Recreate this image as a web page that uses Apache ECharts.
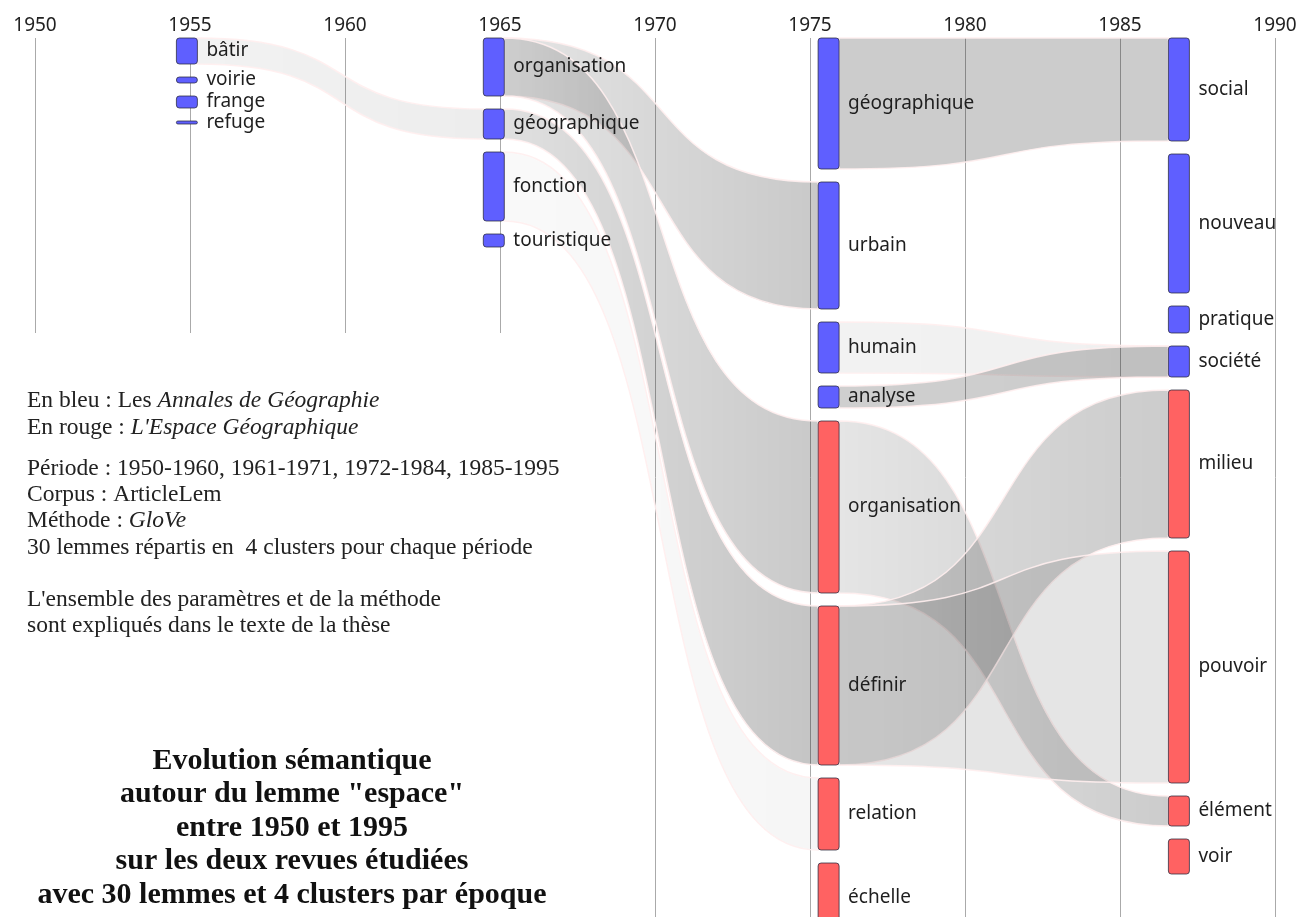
<!DOCTYPE html>
<html>
<head>
<meta charset="utf-8">
<script src="https://cdn.jsdelivr.net/npm/echarts@6/dist/echarts.min.js"></script>
<style>
  html, body { margin: 0; padding: 0; background: #fff; }
  #main { width: 1300px; height: 917px; }
</style>
</head>
<body>
<div id="main"></div>
<script>
// x position (year) of each period column
var periodYears = [1954.9, 1964.8, 1975.6, 1986.9];

// lemmas of each period, top to bottom
var periodLemmas = [
  ['bâtir', 'voirie', 'frange', 'refuge'],
  ['organisation', 'géographique', 'fonction', 'touristique'],
  ['géographique', 'urbain', 'humain', 'analyse', 'organisation', 'définir', 'relation', 'échelle'],
  ['social', 'nouveau', 'pratique', 'société', 'milieu', 'pouvoir', 'élément', 'voir']
];
// cluster weights (bar heights)
var periodWeights = [
  [26, 6, 12, 3],
  [58, 30, 69, 13],
  [131, 127, 51, 22, 172, 159, 72, 70],
  [103, 139, 27, 31, 148, 232, 30, 35]
];
// A = Annales de Géographie, E = L'Espace Géographique
var periodJournal = [
  ['A', 'A', 'A', 'A'],
  ['A', 'A', 'A', 'A'],
  ['A', 'A', 'A', 'A', 'E', 'E', 'E', 'E'],
  ['A', 'A', 'A', 'A', 'E', 'E', 'E', 'E']
];

// flows between consecutive periods
var flowPeriod = [0, 1, 1, 1, 1, 2, 2, 2, 2, 2, 2];
var flowFrom = ['bâtir', 'fonction', 'organisation', 'organisation', 'géographique',
                'géographique', 'humain', 'analyse', 'organisation', 'définir', 'définir'];
var flowTo = ['géographique', 'relation', 'urbain', 'organisation', 'définir',
              'social', 'société', 'société', 'élément', 'milieu', 'pouvoir'];
// similarity at start / end of each flow
var flowStart = [0.05, 0.025, 0.10, 0.10, 0.12, 0.20, 0.05, 0.19, 0.10, 0.13, 0.10];
var flowEnd   = [0.07, 0.035, 0.21, 0.21, 0.23, 0.20, 0.06, 0.20, 0.20, 0.20, 0.10];

var NODE_W = 21;
var GAP = 13;
var CURVE = 0.6;

// stack the clusters of each period
var nodeTop = periodWeights.map(function (ws) {
  var y = 0;
  return ws.map(function (w) { var t = y; y += w + GAP; return t; });
});

var nodeData = [];
periodLemmas.forEach(function (names, p) {
  names.forEach(function (n, i) {
    nodeData.push([periodYears[p], nodeTop[p][i], nodeTop[p][i] + periodWeights[p][i], p, i]);
  });
});

var flowData = flowFrom.map(function (from, k) {
  var p = flowPeriod[k];
  var i = periodLemmas[p].indexOf(from);
  var j = periodLemmas[p + 1].indexOf(flowTo[k]);
  return [periodYears[p], nodeTop[p][i], nodeTop[p][i] + periodWeights[p][i],
          periodYears[p + 1], nodeTop[p + 1][j], nodeTop[p + 1][j] + periodWeights[p + 1][j], k];
});

function renderFlow(params, api) {
  var a = api.coord([api.value(0), api.value(1)]);
  var ab = api.coord([api.value(0), api.value(2)]);
  var b = api.coord([api.value(3), api.value(4)]);
  var bb = api.coord([api.value(3), api.value(5)]);
  var k = api.value(6);
  var x0 = a[0] + NODE_W / 2, x1 = b[0] - NODE_W / 2;
  var c0 = x0 + (x1 - x0) * CURVE, c1 = x1 - (x1 - x0) * CURVE;
  var d = 'M' + x0 + ',' + a[1] +
    'C' + c0 + ',' + a[1] + ' ' + c1 + ',' + b[1] + ' ' + x1 + ',' + b[1] +
    'L' + x1 + ',' + bb[1] +
    'C' + c1 + ',' + bb[1] + ' ' + c0 + ',' + ab[1] + ' ' + x0 + ',' + ab[1] + 'Z';
  return {
    type: 'path',
    shape: { pathData: d },
    style: {
      fill: new echarts.graphic.LinearGradient(0, 0, 1, 0, [
        { offset: 0, color: 'rgba(0,0,0,' + flowStart[k] + ')' },
        { offset: 1, color: 'rgba(0,0,0,' + flowEnd[k] + ')' }
      ]),
      stroke: 'rgba(255,238,238,0.9)',
      lineWidth: 1.5
    }
  };
}

function renderNode(params, api) {
  var t = api.coord([api.value(0), api.value(1)]);
  var b = api.coord([api.value(0), api.value(2)]);
  var p = api.value(3), i = api.value(4);
  var blue = periodJournal[p][i] === 'A';
  return {
    type: 'group',
    children: [{
      type: 'rect',
      shape: { x: t[0] - NODE_W / 2, y: t[1], width: NODE_W, height: Math.max(b[1] - t[1], 1), r: 3 },
      style: { fill: blue ? '#5f5fff' : '#ff6262', stroke: 'rgba(40,40,60,0.75)', lineWidth: 1 }
    }, {
      type: 'text',
      style: {
        text: periodLemmas[p][i],
        x: t[0] + NODE_W / 2 + 9,
        y: (t[1] + b[1]) / 2,
        align: 'left',
        verticalAlign: 'middle',
        font: '19px "Noto Sans"',
        fill: '#1e1e1e'
      }
    }]
  };
}

var serif = { fontFamily: 'Liberation Serif', fontSize: 23.5, fill: '#222' };
var serifIt = { fontFamily: 'Liberation Serif', fontSize: 23.5, fill: '#222', fontStyle: 'italic' };

function infoLine(y, parts) {
  return {
    type: 'text', x: 27, y: y, z: 10,
    style: { text: parts, rich: { n: serif, i: serifIt }, verticalAlign: 'middle', align: 'left' }
  };
}

var chart = echarts.init(document.getElementById('main'));
chart.setOption({
  animation: false,
  grid: { left: 35, right: 25, top: 38, bottom: 0 },
  xAxis: {
    type: 'value', position: 'top',
    min: 1950, max: 1990, interval: 5,
    axisLine: { show: false }, axisTick: { show: false },
    axisLabel: { fontSize: 19, fontFamily: 'Noto Sans', color: '#222', margin: 3,
                 formatter: function (v) { return String(v); } },
    splitLine: { show: true, lineStyle: { color: '#aaa', width: 1 } }
  },
  yAxis: { type: 'value', min: 0, max: 879, inverse: true, show: false },
  graphic: [
    { type: 'rect', z: 1, silent: true, shape: { x: 0, y: 333, width: 600, height: 600 }, style: { fill: '#fff' } },
    infoLine(401, '{n|En bleu : Les }{i|Annales de Géographie}'),
    infoLine(428, '{n|En rouge : }{i|L\'Espace Géographique}'),
    infoLine(469, '{n|Période : 1950-1960, 1961-1971, 1972-1984, 1985-1995}'),
    infoLine(495, '{n|Corpus : ArticleLem}'),
    infoLine(521, '{n|Méthode : }{i|GloVe}'),
    infoLine(548, '{n|30 lemmes répartis en  4 clusters pour chaque période}'),
    infoLine(600, '{n|L\'ensemble des paramètres et de la méthode}'),
    infoLine(626, '{n|sont expliqués dans le texte de la thèse}'),
    {
      type: 'text', x: 292, y: 744, z: 10,
      style: {
        text: 'Evolution sémantique\nautour du lemme "espace"\nentre 1950 et 1995\nsur les deux revues étudiées\navec 30 lemmes et 4 clusters par époque',
        font: 'bold 30px "Liberation Serif"',
        lineHeight: 33.5,
        align: 'center',
        verticalAlign: 'top',
        fill: '#111'
      }
    }
  ],
  series: [{
    type: 'custom', z: 2, silent: true,
    renderItem: renderFlow,
    encode: { x: [0, 3], y: [1, 2, 4, 5] },
    data: flowData
  }, {
    type: 'custom', z: 3, silent: true,
    renderItem: renderNode,
    encode: { x: 0, y: [1, 2] },
    data: nodeData
  }]
});
</script>
</body>
</html>
